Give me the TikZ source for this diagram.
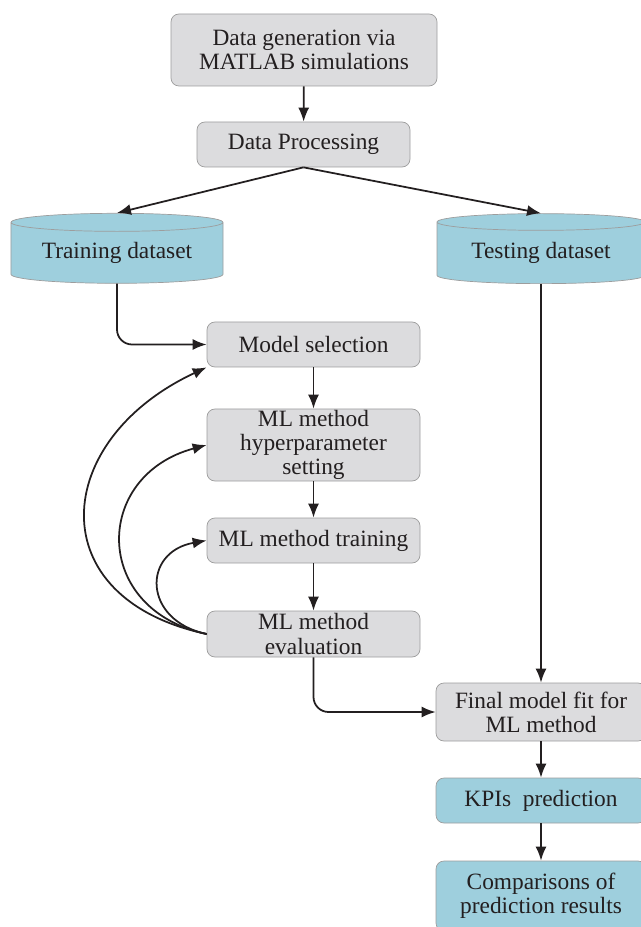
\documentclass[tikz,border=0pt]{standalone}
\usepackage{fontspec}
\setmainfont{Liberation Serif}
\usetikzlibrary{arrows.meta,shapes.geometric}
\definecolor{boxgray}{HTML}{DCDCDE}
\definecolor{boxcyan}{HTML}{9ECFDD}
\definecolor{edgegray}{HTML}{9D9D9D}
\definecolor{inkdark}{HTML}{231F20}
\tikzset{
    procbox/.style={draw=edgegray, fill=boxgray, rounded corners=1.6mm, align=center,
        text=inkdark, minimum width=42.6mm, minimum height=9mm, inner sep=0pt},
    resbox/.style={procbox, fill=boxcyan},
    datastore/.style={cylinder, shape border rotate=90, aspect=0.12, draw=edgegray,
        fill=boxcyan, text=inkdark, minimum width=42.4mm, minimum height=14mm, inner sep=0pt},
    flow/.style={-{Latex[length=2.8mm,width=2.2mm]}, line width=1pt, draw=inkdark}
}
\begin{document}
\begin{tikzpicture}[x=0.2mm, y=-0.2mm, font=\fontsize{13.3}{13.7}\selectfont]
        \useasboundingbox (0,0) rectangle (640,927);

        % Draw the preparation steps
        \node[procbox, minimum width=53.2mm, minimum height=14.4mm] (gen) at (304,50)
            {Data generation via\\MATLAB simulations};
        \node[procbox] (proc) at (303.5,144.5) {Data Processing};

        % Draw the two datasets
        \node[datastore] (train) at (117,253) {Training dataset};
        \node[datastore, minimum width=41.6mm] (test) at (541,253) {Testing dataset};

        % Draw the training loop
        \node[procbox] (model) at (313.5,344.5) {Model selection};
        \node[procbox, minimum height=14.4mm] (hyper) at (313.5,445)
            {ML method\\hyperparameter\\setting};
        \node[procbox] (fit) at (313.5,540.5) {ML method training};
        \node[procbox, minimum height=9.2mm] (eval) at (313.5,634) {ML method\\evaluation};

        % Draw the final steps
        \node[procbox, minimum width=42mm, minimum height=11.6mm] (final) at (541,712)
            {Final model fit for\\ML method};
        \node[resbox, minimum width=42mm] (kpi) at (541,800.5) {KPIs~~prediction};
        \node[resbox, minimum width=42mm, minimum height=14mm] (comp) at (541,896)
            {Comparisons of\\prediction results};

        % Draw the straight arrows
        \draw[flow] (gen) -- (proc);
        \draw[flow] (proc.south) -- (train.north);
        \draw[flow] (proc.south) -- (test.north);
        \draw[flow, rounded corners=3mm] (train.south) |- (model.west);
        \draw[flow] (test.south) -- (final.north);
        \draw[flow] (model) -- (hyper);
        \draw[flow] (hyper) -- (fit);
        \draw[flow] (fit) -- (eval);
        \draw[flow, rounded corners=3mm] (eval.south) |- (final.west);
        \draw[flow] (final) -- (kpi);
        \draw[flow] (kpi) -- (comp);

        % Draw the feedback arrows
        \draw[flow] (eval.west) to[out=168, in=205, looseness=1.65] (model.south west);
        \draw[flow] (eval.west) to[out=168, in=195, looseness=1.6] (hyper.west);
        \draw[flow] (eval.west) to[out=168, in=190, looseness=1.8] (fit.west);
    \end{tikzpicture}
\end{document}
